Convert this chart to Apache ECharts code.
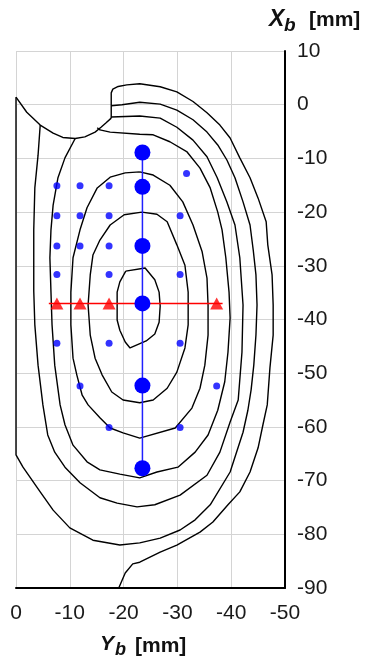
<!DOCTYPE html>
<html>
<head>
<meta charset="utf-8">
<style>
  html, body { margin: 0; padding: 0; background: #fff; }
  #chart { width: 366px; height: 662px; }
</style>
<script src="https://cdn.jsdelivr.net/npm/echarts@6/dist/echarts.min.js"></script>
</head>
<body>
<div id="chart"></div>
<script>
// axis ranges (Yb horizontal, Xb vertical), mm
const yRange = [-50, 0];
const xRange = [-90, 10];
const tickStep = 10;

// measurement points, small dots [Yb, Xb]
const smallDots = [
  [-31.7, -12.8],
  [-7.6, -15.1], [-11.9, -15.1], [-17.3, -15.1],
  [-7.6, -20.7], [-11.9, -20.7], [-17.3, -20.7], [-30.5, -20.7],
  [-7.6, -26.3], [-11.9, -26.3], [-17.3, -26.3],
  [-7.6, -31.6], [-17.3, -31.6], [-30.5, -31.6],
  [-7.6, -44.4], [-17.3, -44.4], [-30.5, -44.4],
  [-11.9, -52.4], [-37.3, -52.4],
  [-17.3, -60.1], [-30.5, -60.1]
];

// large dots along the vertical profile
const profileY = -23.5;
const profileX = [-8.9, -15.3, -26.3, -37.0, -52.3, -67.7];

// red triangles along the horizontal profile
const triX = -37.0;
const triY = [-7.6, -11.9, -17.3, -37.3];
const redLineY = [-6.1, -38.4];

// contour lines [Yb, Xb]
const arcLine = [
  [0, 1.4], [-2.0, -1.4], [-4.5, -3.8], [-6.9, -5.3], [-8.7, -6.1], [-11.0, -6.3],
  [-12.8, -6.0], [-14.7, -5.1], [-15.8, -4.2], [-16.7, -3.4], [-17.7, -2.5]
];
const c7 = [
  [-17.7, -2.5], [-17.7, 2.2], [-18.0, 2.9], [-19.0, 3.4], [-20.6, 3.7], [-23.0, 3.9],
  [-26.8, 3.35], [-29.9, 2.4], [-32.9, 0.6], [-35.5, -1.5], [-37.9, -3.8], [-39.8, -6.2],
  [-41.6, -9.9], [-43.5, -13.6], [-45.0, -17.4], [-46.5, -21.8], [-46.8, -26.1],
  [-47.6, -31.7], [-47.8, -37.3], [-47.8, -42.9], [-47.2, -49.0], [-46.7, -55.9],
  [-45.9, -59.6], [-45.0, -63.9], [-43.5, -68.4], [-41.6, -72.1], [-39.4, -74.5],
  [-36.6, -77.7], [-34.2, -79.6], [-29.9, -82.0], [-26.8, -83.3], [-23.0, -85.2],
  [-21.7, -85.5], [-20.3, -87.2], [-19.1, -90]
];
const c6 = [
  [-17.7, -0.2], [-19.7, 0.0], [-23.0, 0.45], [-26.8, 0.1], [-29.9, -1.0], [-32.9, -2.8],
  [-35.5, -5.1], [-37.5, -7.5], [-39.2, -10.3], [-40.7, -13.6], [-42.2, -18.1],
  [-43.5, -22.4], [-44.1, -27.1], [-44.6, -31.7], [-44.8, -37.3], [-44.6, -42.9],
  [-44.2, -48.5], [-43.7, -53.1], [-43.1, -56.9], [-42.2, -61.0], [-39.8, -68.4],
  [-36.1, -74.5], [-33.3, -77.3], [-30.5, -79.2], [-26.8, -80.7], [-23.0, -81.6],
  [-19.3, -82.0], [-14.3, -81.1], [-10.0, -78.8], [-6.9, -75.5], [-4.5, -72.1],
  [-1.3, -67.5], [0, -65.2], [0, 1.4]
];
const c5 = [
  [-4.5, -3.8], [-4.1, -9.4], [-3.5, -15.5], [-3.3, -23.3], [-3.3, -28.5], [-3.3, -34.7],
  [-3.5, -41.0], [-4.1, -48.5], [-5.0, -55.9], [-5.9, -61.5], [-7.2, -64.7], [-9.1, -67.5],
  [-11.9, -70.4], [-15.6, -73.2], [-18.8, -74.2], [-22.5, -74.9], [-25.8, -74.5],
  [-30.5, -72.7], [-35.5, -69.0], [-37.9, -64.7], [-39.8, -59.1], [-41.3, -55.0],
  [-42.0, -46.1], [-42.2, -37.3], [-41.6, -28.5], [-40.7, -22.4], [-39.2, -18.1],
  [-37.4, -13.6], [-35.5, -9.7], [-32.9, -6.6], [-29.9, -4.2], [-26.8, -2.5],
  [-23.0, -2.1], [-17.7, -2.3]
];
const c4 = [
  [-11.0, -6.3], [-9.1, -9.9], [-7.8, -13.6], [-6.9, -18.7], [-6.5, -23.3], [-6.3, -28.5],
  [-6.5, -34.9], [-6.7, -41.0], [-7.2, -48.5], [-8.2, -55.9], [-9.1, -59.6], [-10.6, -63.4],
  [-13.2, -66.5], [-15.6, -68.0], [-19.3, -68.8], [-23.0, -69.5], [-26.2, -68.4],
  [-30.1, -67.5], [-33.3, -64.7], [-35.7, -61.5], [-37.5, -56.9], [-38.8, -51.6],
  [-39.4, -46.1], [-39.8, -39.7], [-39.6, -34.9], [-39.0, -28.5], [-38.3, -23.3],
  [-37.5, -20.0], [-36.1, -15.5], [-34.2, -11.8], [-31.8, -8.8], [-28.6, -6.9],
  [-25.5, -5.6], [-23.0, -5.5], [-17.5, -5.1], [-15.6, -4.7], [-15.1, -4.3]
];
const c3 = [
  [-23.0, -12.5], [-25.5, -13.1], [-28.6, -15.0], [-31.0, -18.1], [-32.9, -22.4],
  [-34.6, -27.4], [-35.5, -32.3], [-35.7, -37.3], [-35.7, -42.9], [-35.1, -48.5],
  [-34.2, -52.8], [-32.7, -56.5], [-29.6, -60.2], [-23.0, -62.1], [-19.9, -61.1],
  [-17.5, -60.2], [-15.6, -58.3], [-13.4, -55.9], [-12.3, -54.1], [-11.3, -50.3],
  [-10.6, -47.2], [-10.2, -41.0], [-10.2, -34.9], [-10.6, -28.5], [-11.9, -23.3],
  [-13.2, -19.2], [-15.1, -15.5], [-17.5, -13.5], [-20.3, -12.7], [-23.0, -12.5]
];
const c2 = [
  [-23.4, -20.0], [-26.2, -20.4], [-28.1, -21.8], [-29.9, -26.1], [-31.4, -29.9],
  [-32.0, -34.9], [-32.0, -41.0], [-31.4, -45.3], [-29.9, -49.8], [-28.1, -52.8],
  [-25.5, -55.0], [-23.0, -55.5], [-19.9, -55.0], [-17.8, -53.5], [-16.0, -50.3],
  [-14.7, -47.2], [-13.8, -42.9], [-13.4, -37.3], [-13.8, -31.7], [-14.3, -28.0],
  [-15.6, -25.2], [-17.5, -22.4], [-20.1, -20.5], [-23.4, -20.0]
];
const c1 = [
  [-20.4, -31.0], [-24.0, -30.4], [-25.8, -32.6], [-26.6, -34.9], [-26.8, -37.5],
  [-26.6, -40.5], [-25.8, -42.7], [-24.2, -44.0], [-21.2, -45.3], [-20.3, -44.2],
  [-19.3, -42.0], [-18.8, -40.1], [-18.8, -34.9], [-19.3, -33.0], [-20.4, -31.0]
];

const contours = [arcLine, c7, c6, c5, c4, c3, c2, c1];

const FONT = '"Liberation Sans", Arial, sans-serif';
const chart = echarts.init(document.getElementById('chart'));

const contourSeries = contours.map((pts) => ({
  type: 'line',
  data: pts,
  showSymbol: false,
  clip: false,
  silent: true,
  z: 2,
  lineStyle: { color: '#000', width: 1.4 }
}));

const option = {
  animation: false,
  grid: { left: 16, right: 81, top: 51, bottom: 74, outerBoundsMode: 'none' },
  xAxis: {
    type: 'value',
    min: yRange[0],
    max: yRange[1],
    interval: tickStep,
    inverse: true,
    position: 'bottom',
    axisLine: { show: true, onZero: false, lineStyle: { color: '#000', width: 2 } },
    axisTick: { show: false },
    axisLabel: { color: '#1a1a1a', fontSize: 21, fontFamily: FONT, margin: 15 },
    splitLine: { show: true, lineStyle: { color: '#d4d4d4', width: 1 } }
  },
  yAxis: {
    type: 'value',
    min: xRange[0],
    max: xRange[1],
    interval: tickStep,
    position: 'right',
    axisLine: { show: true, onZero: false, lineStyle: { color: '#000', width: 2 } },
    axisTick: { show: false },
    axisLabel: { color: '#1a1a1a', fontSize: 21, fontFamily: FONT, margin: 12 },
    splitLine: { show: true, lineStyle: { color: '#d4d4d4', width: 1 } }
  },
  graphic: [
    { type: 'text', left: 269, top: 8, style: { text: 'X', font: 'italic bold 23px ' + FONT, fill: '#111' } },
    { type: 'text', left: 284, top: 16, style: { text: 'b', font: 'italic bold 19px ' + FONT, fill: '#111' } },
    { type: 'text', left: 309, top: 10, style: { text: '[mm]', font: 'bold 21px ' + FONT, fill: '#111' } },
    { type: 'text', left: 100, top: 634, style: { text: 'Y', font: 'italic bold 21px ' + FONT, fill: '#111' } },
    { type: 'text', left: 115, top: 641, style: { text: 'b', font: 'italic bold 18px ' + FONT, fill: '#111' } },
    { type: 'text', left: 135, top: 636, style: { text: '[mm]', font: 'bold 21px ' + FONT, fill: '#111' } }
  ],
  series: [
    ...contourSeries,
    {
      type: 'line',
      data: redLineY.map((y) => [y, triX]),
      showSymbol: false,
      clip: false,
      z: 3,
      lineStyle: { color: '#ff0000', width: 1.5 }
    },
    {
      type: 'line',
      data: profileX.map((x) => [profileY, x]),
      symbol: 'circle',
      symbolSize: 16,
      showSymbol: true,
      z: 4,
      itemStyle: { color: '#0000ff' },
      lineStyle: { color: '#2020ff', width: 1.5 }
    },
    {
      type: 'scatter',
      data: smallDots,
      symbol: 'circle',
      symbolSize: 7,
      z: 4,
      itemStyle: { color: '#0000ff' }
    },
    {
      type: 'scatter',
      data: triY.map((y) => [y, triX]),
      symbol: 'triangle',
      symbolSize: [13, 12],
      z: 5,
      itemStyle: { color: '#ff0000' }
    }
  ]
};

chart.setOption(option);
window.addEventListener('resize', () => chart.resize());
</script>
</body>
</html>
